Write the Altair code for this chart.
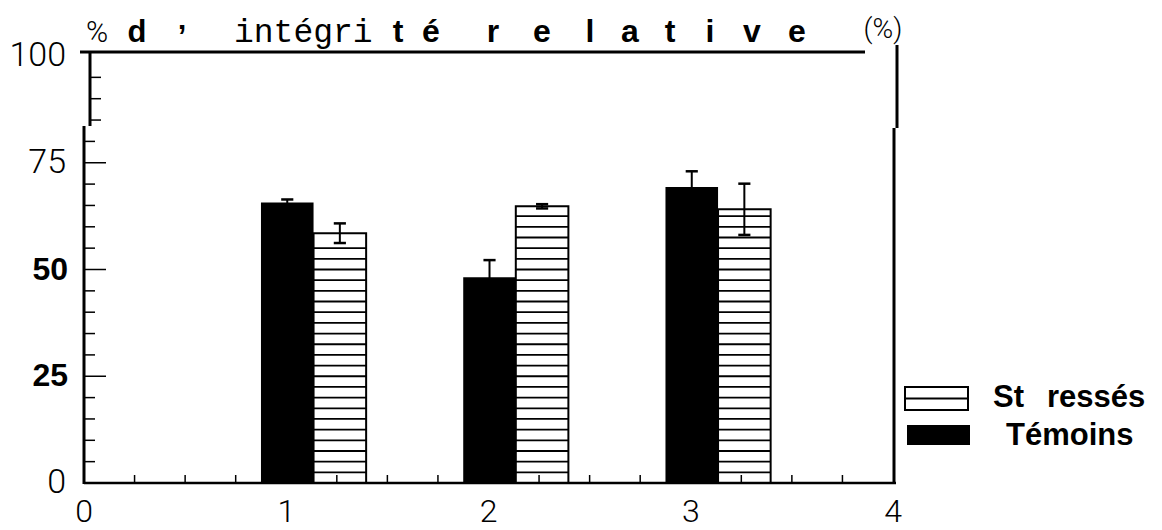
import altair as alt
import pandas as pd
import numpy as np

# ---- data ----
groups = [1, 2, 3]
temoins = [65.7, 48.2, 69.3]
temoins_err = [0.7, 4.0, 3.7]
stresses = [58.5, 64.8, 64.1]
stresses_err = [2.3, 0.5, 6.0]
y_labels_thin = [0, 75, 100]
y_labels_bold = [25, 50]
x_labels = [0, 1, 2, 3, 4]
title_bold_chars = ["t", "é", "r", "e", "l", "a", "t", "i", "v", "e"]

# ---- layout constants ----
W, H = 809, 427
OX, OY = 84, 56  # absolute position of plot origin (top-left)
TOTAL_H = 522
title_bold_x = [398, 431, 493, 542, 590, 630, 670, 710, 752, 797]

xs = alt.Scale(domain=[0, 4], nice=False, zero=False)
ys = alt.Scale(domain=[0, 100], nice=False)

def X(f):
    return alt.X(f, type="quantitative", scale=xs, axis=None)

def Y(f):
    return alt.Y(f, type="quantitative", scale=ys, axis=None)

bars = pd.DataFrame({
    "g": groups,
    "t": temoins, "te": temoins_err,
    "s": stresses, "se": stresses_err,
})
bars["bx1"] = bars.g - 0.125
bars["bx2"] = bars.g + 0.135
bars["bxc"] = bars.g + 0.005
bars["sx1"] = bars.g + 0.135
bars["sx2"] = bars.g + 0.395
bars["sxc"] = bars.g + 0.265
bars["t_lo"] = bars.t - bars.te
bars["t_hi"] = bars.t + bars.te
bars["s_lo"] = bars.s - bars.se
bars["s_hi"] = bars.s + bars.se
cap = 0.03
bars["bc1"] = bars.bxc - cap
bars["bc2"] = bars.bxc + cap
bars["sc1"] = bars.sxc - cap
bars["sc2"] = bars.sxc + cap

base = alt.Chart(bars)

black = base.mark_rect(color="black").encode(x=X("bx1"), x2="bx2", y=Y("t"), y2=alt.datum(0))
striped = base.mark_rect(fill="white", stroke="black", strokeWidth=2).encode(
    x=X("sx1"), x2="sx2", y=Y("s"), y2=alt.datum(0))

# hatch lines inside the striped bars (decoration)
rows = []
for _, r in bars.iterrows():
    for v in np.arange(2.5, r.s - 1.0, 2.5):
        rows.append({"x1": r.sx1, "x2": r.sx2, "y": v})
hatch = alt.Chart(pd.DataFrame(rows)).mark_rule(color="black", strokeWidth=1.8).encode(
    x=X("x1"), x2="x2", y=Y("y"))

err_t = base.mark_rule(color="black", strokeWidth=2).encode(x=X("bxc"), y=Y("t_lo"), y2="t_hi")
cap_t = base.mark_rule(color="black", strokeWidth=2.5).encode(x=X("bc1"), x2="bc2", y=Y("t_hi"))
err_s = base.mark_rule(color="black", strokeWidth=2).encode(x=X("sxc"), y=Y("s_lo"), y2="s_hi")
cap_s_hi = base.mark_rule(color="black", strokeWidth=2.5).encode(x=X("sc1"), x2="sc2", y=Y("s_hi"))
cap_s_lo = base.mark_rule(color="black", strokeWidth=2.5).encode(x=X("sc1"), x2="sc2", y=Y("s_lo"))

# ticks (inward)
xt = pd.DataFrame({"v": [v for v in np.arange(0.25, 4.0, 0.25) if abs(v - round(v)) > 1e-6]})
x_ticks = alt.Chart(xt).mark_rule(color="black", strokeWidth=1.5).encode(
    x=X("v"), y=alt.value(H), y2=alt.value(H - 8))

minor_low = pd.DataFrame({"v": [v for v in range(5, 85, 5) if v % 25 != 0]})
minor_high = pd.DataFrame({"v": [85, 90, 95]})
major = pd.DataFrame({"v": [25, 50, 75]})
yt_low = alt.Chart(minor_low).mark_rule(color="black", strokeWidth=1.5).encode(
    y=Y("v"), x=alt.value(0), x2=alt.value(11))
yt_high = alt.Chart(minor_high).mark_rule(color="black", strokeWidth=1.5).encode(
    y=Y("v"), x=alt.value(6), x2=alt.value(17))
yt_major = alt.Chart(major).mark_rule(color="black", strokeWidth=1.5).encode(
    y=Y("v"), x=alt.value(0), x2=alt.value(22))

one = alt.Chart(pd.DataFrame({"a": [0]}))

def hline(x1, x2, y, w=3):
    return one.mark_rule(color="black", strokeWidth=w).encode(
        x=alt.value(x1), x2=alt.value(x2), y=alt.value(y))

def vline(x, y1, y2, w=3):
    return one.mark_rule(color="black", strokeWidth=w).encode(
        x=alt.value(x), y=alt.value(y1), y2=alt.value(y2))

frame = [
    hline(80 - OX, 865 - OX, 52 - OY, 3),
    vline(6, 52 - OY, 126 - OY, 3),
    vline(0, 126 - OY, H + 1, 3),
    hline(0, 812, H, 2.5),
    vline(813, 45 - OY, 128 - OY, 3),
    vline(810, 128 - OY, H + 1, 3),
]

# axis labels
mono_font = "Liberation Mono"
thin_font = "Roboto"
bold_font = "Liberation Sans"
ylab_thin = alt.Chart(pd.DataFrame({"v": y_labels_thin})).mark_text(
    font=thin_font, fontWeight=300, fontSize=34, align="right", baseline="middle", color="black").encode(
    x=alt.value(-18), y=Y("v"), text="v:N")
ylab_bold = alt.Chart(pd.DataFrame({"v": y_labels_bold})).mark_text(
    font=bold_font, fontWeight="bold", fontSize=32, align="right", baseline="middle", color="black").encode(
    x=alt.value(-16), y=Y("v"), text="v:N")
xlab = alt.Chart(pd.DataFrame({"v": x_labels})).mark_text(
    font=thin_font, fontWeight=300, fontSize=32, align="center", baseline="middle", color="black").encode(
    x=X("v"), y=alt.value(512 - OY), text="v:N")

# title pieces
def txt(s, x, y, font, size, weight="normal", align="left", baseline="alphabetic"):
    return one.mark_text(text=s, font=font, fontSize=size, fontWeight=weight,
                         align=align, baseline=baseline, color="black").encode(
        x=alt.value(x - OX), y=alt.value(y - OY))

title_parts = [
    txt("%", 97, 42, thin_font, 30, 300, align="center"),
    txt("d", 137, 42, bold_font, 31, "bold", align="center"),
    txt("’", 182, 47, bold_font, 31, "bold", align="center"),
    txt("intégri", 234, 42, mono_font, 33),
    txt("(%)", 883, 30, thin_font, 28, 300, align="center", baseline="middle"),
]
tb = pd.DataFrame({"c": title_bold_chars, "x": [x - OX for x in title_bold_x]})
title_bold = alt.Chart(tb).mark_text(font=bold_font, fontWeight="bold", fontSize=32,
                                     align="center", baseline="alphabetic", color="black").encode(
    x=alt.X("x:Q", scale=None, axis=None), y=alt.value(42 - OY), text="c:N")

# legend
leg = [
    one.mark_rect(fill="white", stroke="black", strokeWidth=2).encode(
        x=alt.value(905 - OX), x2=alt.value(968 - OX), y=alt.value(387 - OY), y2=alt.value(410 - OY)),
    hline(905 - OX, 968 - OX, 398.5 - OY, 1.8),
    one.mark_rect(fill="black").encode(
        x=alt.value(907 - OX), x2=alt.value(970 - OX), y=alt.value(425 - OY), y2=alt.value(445 - OY)),
    txt("St", 993, 398, bold_font, 31, "bold", baseline="middle"),
    txt("ressés", 1047, 398, bold_font, 31, "bold", baseline="middle"),
    txt("Témoins", 1006, 436, bold_font, 31, "bold", baseline="middle"),
]

chart = alt.layer(
    striped, hatch, black, x_ticks, err_t, cap_t, err_s, cap_s_hi, cap_s_lo,
    yt_low, yt_high, yt_major, *frame, ylab_thin, ylab_bold, xlab,
    *title_parts, title_bold, *leg,
).properties(
    width=W, height=H,
    padding={"left": OX - 8, "top": OY - 8, "right": 1146 - (OX - 8) - W,
             "bottom": TOTAL_H - (OY - 8) - H},
    autosize=alt.AutoSizeParams(type="none"),
    background="white",
).configure_view(stroke=None)

chart.save("out.html", embed_options={"renderer": "svg", "actions": False})
